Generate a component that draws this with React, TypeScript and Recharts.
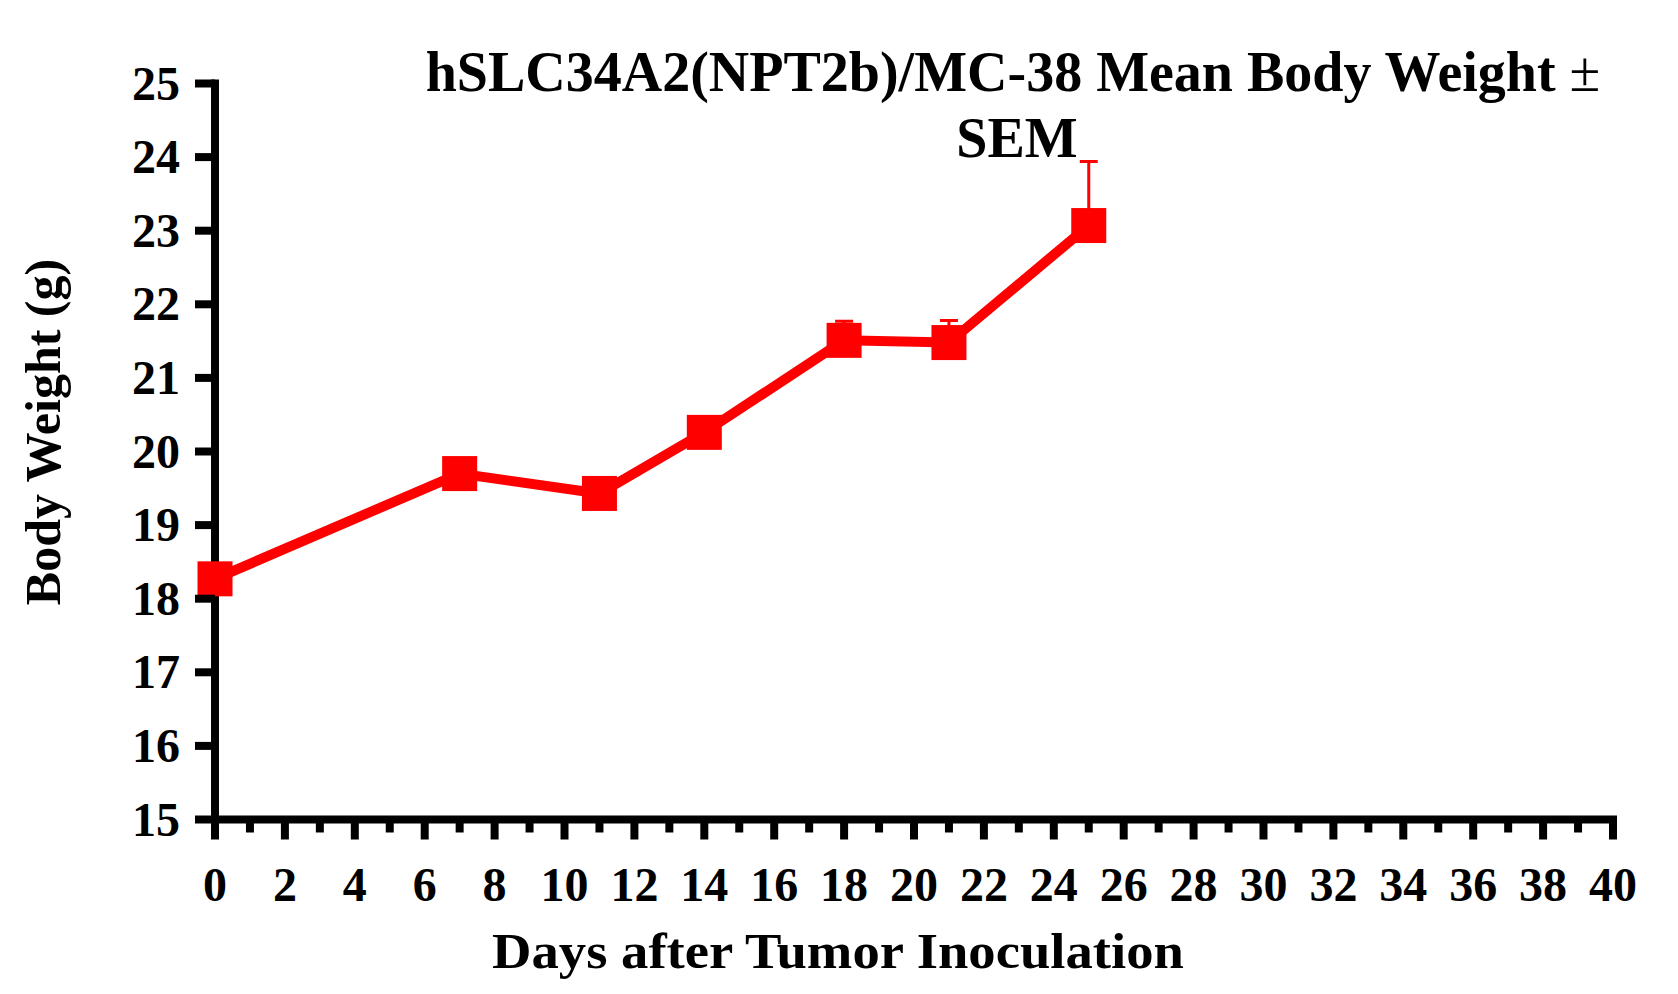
import React from 'react';
import { LineChart, Line, XAxis, YAxis, ErrorBar, Label } from 'recharts';

const days = [0, 7, 11, 14, 18, 21, 25];
const meanWeight = [18.27, 19.7, 19.43, 20.26, 21.51, 21.48, 23.07];
const semWeight = [0.15, 0.18, 0.17, 0.2, 0.26, 0.3, 0.87];

const yTicks = [15, 16, 17, 18, 19, 20, 21, 22, 23, 24, 25];
const xTicks = [
  0, 1, 2, 3, 4, 5, 6, 7, 8, 9, 10, 11, 12, 13, 14, 15, 16, 17, 18, 19, 20,
  21, 22, 23, 24, 25, 26, 27, 28, 29, 30, 31, 32, 33, 34, 35, 36, 37, 38, 39, 40,
];
const xLabelled = [0, 2, 4, 6, 8, 10, 12, 14, 16, 18, 20, 22, 24, 26, 28, 30, 32, 34, 36, 38, 40];

const titleLine1 = 'hSLC34A2(NPT2b)/MC-38 Mean Body Weight';
const titleLine2 = 'SEM';

const data = days.map((d, i) => ({
  day: d,
  weight: meanWeight[i],
  sem: [0, semWeight[i]],
}));

const RED = '#FF0000';
const FONT = '"Liberation Serif", "Times New Roman", Times, serif';

const XTick = (props: any) => {
  const { x, y, payload } = props;
  const major = xLabelled.includes(payload.value);
  return (
    <g>
      <line x1={x} y1={y} x2={x} y2={y + (major ? 20 : 13)} stroke="#000" strokeWidth={8} />
      {major && (
        <text x={x} y={y + 81} textAnchor="middle" fontFamily={FONT} fontWeight="bold" fontSize={48} fill="#000">
          {payload.value}
        </text>
      )}
    </g>
  );
};

const YTick = (props: any) => {
  const { x, y, payload } = props;
  return (
    <g>
      <line x1={x - 20} y1={y} x2={x} y2={y} stroke="#000" strokeWidth={8} />
      <text x={x - 35} y={y + 16} textAnchor="end" fontFamily={FONT} fontWeight="bold" fontSize={48} fill="#000">
        {payload.value}
      </text>
    </g>
  );
};

const SquareDot = (props: any) => {
  const { cx, cy, index } = props;
  return <rect key={`sq-${index}`} x={cx - 17.5} y={cy - 17.5} width={35} height={35} fill={RED} />;
};

export default function App() {
  return (
    <div style={{ position: 'relative', width: 1678, height: 994, background: '#fff' }}>
      <style>{'body{margin:0;background:#fff}'}</style>
      <LineChart width={1678} height={994} data={data} margin={{ top: 83.5, right: 65, bottom: 0, left: 0 }}>
        <XAxis
          dataKey="day"
          type="number"
          domain={[0, 40]}
          ticks={xTicks}
          interval={0}
          height={174.5}
          tickSize={0}
          tickMargin={0}
          tickLine={false}
          axisLine={{ stroke: '#000', strokeWidth: 8, strokeLinecap: 'square' }}
          tick={<XTick />}
        >
          <Label
            content={() => (
              <text
                x={838}
                y={968}
                textAnchor="middle"
                fontFamily={FONT}
                fontWeight="bold"
                fontSize={50}
                fill="#000"
                textLength={692}
                lengthAdjust="spacingAndGlyphs"
              >
                Days after Tumor Inoculation
              </text>
            )}
          />
        </XAxis>
        <YAxis
          type="number"
          domain={[15, 25]}
          ticks={yTicks}
          interval={0}
          width={215}
          tickSize={0}
          tickMargin={0}
          tickLine={false}
          axisLine={{ stroke: '#000', strokeWidth: 8, strokeLinecap: 'square' }}
          tick={<YTick />}
        >
          <Label
            content={() => (
              <text
                x={60}
                y={432}
                transform="rotate(-90 60 432)"
                textAnchor="middle"
                fontFamily={FONT}
                fontWeight="bold"
                fontSize={50}
                fill="#000"
              >
                Body Weight (g)
              </text>
            )}
          />
        </YAxis>
        <Line
          dataKey="weight"
          stroke={RED}
          strokeWidth={10}
          dot={SquareDot}
          activeDot={false}
          isAnimationActive={false}
        >
          <ErrorBar dataKey="sem" direction="y" stroke={RED} strokeWidth={3} width={9} isAnimationActive={false} />
        </Line>
      </LineChart>
      <svg
        width={1678}
        height={994}
        style={{ position: 'absolute', left: 0, top: 0, pointerEvents: 'none' }}
      >
        <text x={1013} y={91} textAnchor="middle" fontFamily={FONT} fontWeight="bold" fontSize={56} fill="#000">
          {titleLine1}
          <tspan fontWeight="normal">{' \u00B1'}</tspan>
        </text>
        <text x={1017} y={157} textAnchor="middle" fontFamily={FONT} fontWeight="bold" fontSize={56} fill="#000">
          {titleLine2}
        </text>
      </svg>
    </div>
  );
}
